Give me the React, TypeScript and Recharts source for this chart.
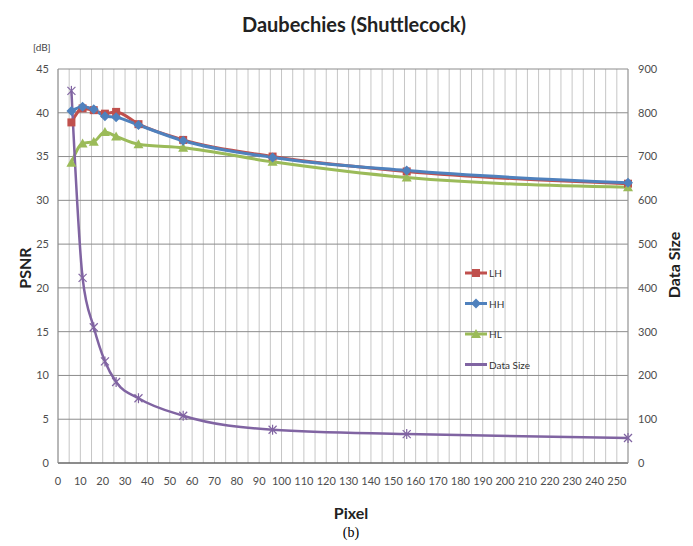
import { ComposedChart, Line, XAxis, YAxis, CartesianGrid } from 'recharts'

// window size (pixels) used for each run
const pixels = [6, 11, 16, 21, 26, 36, 56, 96, 156, 255]

// PSNR in dB per sub-band
const lhPsnr = [38.9, 40.5, 40.3, 39.9, 40.1, 38.7, 36.9, 35.0, 33.3, 31.9]
const hhPsnr = [40.2, 40.7, 40.4, 39.6, 39.5, 38.6, 36.8, 34.9, 33.4, 32.0]
const hlPsnr = [34.3, 36.5, 36.7, 37.8, 37.3, 36.4, 36.0, 34.4, 32.6, 31.5]

// compressed data size
const dataSize = [850, 423, 310, 232, 185, 148, 108, 76, 66, 57]

const xTicks = Array.from({ length: 52 }, (_, i) => i * 5)
const psnrTicks = [0, 5, 10, 15, 20, 25, 30, 35, 40, 45]
const sizeTicks = [0, 100, 200, 300, 400, 500, 600, 700, 800, 900]

const RED = '#c0504d'
const BLUE = '#4f81bd'
const GREEN = '#9bbb59'
const PURPLE = '#8064a2'

const FONT = 'Lato, "DejaVu Sans Condensed", Arial, sans-serif'

const data = pixels.map((p, i) => ({
  pixel: p,
  LH: lhPsnr[i],
  HH: hhPsnr[i],
  HL: hlPsnr[i],
  size: dataSize[i],
}))

type DotProps = { cx?: number; cy?: number; index?: number }

const squareDot = (color: string) => (p: DotProps) => (
  <rect key={`sq-${p.index}`} x={(p.cx ?? 0) - 4} y={(p.cy ?? 0) - 4} width={8} height={8} fill={color} />
)

const diamondDot = (color: string) => (p: DotProps) => {
  const x = p.cx ?? 0
  const y = p.cy ?? 0
  return <polygon key={`dm-${p.index}`} points={`${x},${y - 5} ${x + 5},${y} ${x},${y + 5} ${x - 5},${y}`} fill={color} />
}

const triangleDot = (color: string) => (p: DotProps) => {
  const x = p.cx ?? 0
  const y = p.cy ?? 0
  return <polygon key={`tr-${p.index}`} points={`${x},${y - 5} ${x + 5},${y + 4} ${x - 5},${y + 4}`} fill={color} />
}

const starDot = (color: string) => (p: DotProps) => {
  const x = p.cx ?? 0
  const y = p.cy ?? 0
  return (
    <g key={`st-${p.index}`} stroke={color} strokeWidth={1.2}>
      <line x1={x - 4} y1={y - 4} x2={x + 4} y2={y + 4} />
      <line x1={x - 4} y1={y + 4} x2={x + 4} y2={y - 4} />
      <line x1={x} y1={y - 5} x2={x} y2={y + 5} />
    </g>
  )
}

const legendItems = [
  { name: 'LH', color: RED, marker: 'square' },
  { name: 'HH', color: BLUE, marker: 'diamond' },
  { name: 'HL', color: GREEN, marker: 'triangle' },
  { name: 'Data Size', color: PURPLE, marker: 'none' },
]

// series key drawn inside the plot area
function LegendBox() {
  return (
    <svg width={100} height={110} style={{ position: 'absolute', left: 465, top: 263 }}>
      {legendItems.map((it, i) => {
        const y = 10 + i * 30.5
        return (
          <g key={it.name}>
            <line x1={0} y1={y} x2={22} y2={y} stroke={it.color} strokeWidth={3} />
            {it.marker === 'square' && <rect x={7} y={y - 4} width={8} height={8} fill={it.color} />}
            {it.marker === 'diamond' && (
              <polygon points={`11,${y - 5} 16,${y} 11,${y + 5} 6,${y}`} fill={it.color} />
            )}
            {it.marker === 'triangle' && (
              <polygon points={`11,${y - 5} 16,${y + 4} 6,${y + 4}`} fill={it.color} />
            )}
            <text x={24} y={y + 4} fontSize={10} fontFamily={FONT} fill="#333">
              {it.name}
            </text>
          </g>
        )
      })}
    </svg>
  )
}

const tickStyle = { fontSize: 11, fill: '#4d4d4d', fontFamily: FONT }

const axisTitle = {
  position: 'absolute' as const,
  fontFamily: FONT,
  fontWeight: 'bold' as const,
  fontSize: 16,
  color: '#222',
  whiteSpace: 'nowrap' as const,
}

export default function App() {
  return (
    <div style={{ position: 'absolute', left: 0, top: 0, width: 693, height: 546, background: '#fff' }}>
      <div
        style={{
          position: 'absolute',
          left: 0,
          width: 708,
          top: 12,
          textAlign: 'center',
          fontFamily: FONT,
          fontWeight: 'bold',
          fontSize: 20,
          color: '#222',
        }}
      >
        Daubechies (Shuttlecock)
      </div>
      <div style={{ position: 'absolute', left: 33, top: 41, fontSize: 10, fontFamily: FONT, color: '#444' }}>[dB]</div>
      <ComposedChart width={693} height={546} data={data} margin={{ top: 69, right: 15, bottom: 53, left: 18 }}>
        <CartesianGrid horizontal={false} stroke="#c6c6c6" yAxisId="psnr" />
        <CartesianGrid vertical={false} stroke="#8c8c8c" yAxisId="psnr" />
        <XAxis
          dataKey="pixel"
          type="number"
          domain={[0, 255]}
          ticks={xTicks}
          interval={0}
          tickFormatter={(v: number) => (v % 10 === 0 ? String(v) : '')}
          tick={tickStyle}
          tickLine={false}
          tickSize={0}
          tickMargin={14}
          axisLine={{ stroke: '#555' }}
          height={30}
        />
        <YAxis
          yAxisId="psnr"
          domain={[0, 45]}
          ticks={psnrTicks}
          interval={0}
          tick={tickStyle}
          tickLine={false}
          tickSize={0}
          tickMargin={9}
          axisLine={{ stroke: '#8c8c8c' }}
          width={40}
        />
        <YAxis
          yAxisId="size"
          orientation="right"
          domain={[0, 900]}
          ticks={sizeTicks}
          interval={0}
          tick={tickStyle}
          tickLine={false}
          tickSize={0}
          tickMargin={10}
          axisLine={{ stroke: '#999' }}
          width={50}
        />
        <Line yAxisId="psnr" dataKey="LH" name="LH" type="monotone" stroke={RED} strokeWidth={3} dot={squareDot(RED)} isAnimationActive={false} />
        <Line yAxisId="psnr" dataKey="HL" name="HL" type="monotone" stroke={GREEN} strokeWidth={3} dot={triangleDot(GREEN)} isAnimationActive={false} />
        <Line yAxisId="psnr" dataKey="HH" name="HH" type="monotone" stroke={BLUE} strokeWidth={3} dot={diamondDot(BLUE)} isAnimationActive={false} />
        <Line yAxisId="size" dataKey="size" name="Data Size" type="monotone" stroke={PURPLE} strokeWidth={2.5} dot={starDot(PURPLE)} isAnimationActive={false} />
      </ComposedChart>
      <LegendBox />
      <div style={{ ...axisTitle, left: 24, top: 268, transform: 'translate(-50%, -50%) rotate(-90deg)' }}>PSNR</div>
      <div style={{ ...axisTitle, left: 673, top: 265, transform: 'translate(-50%, -50%) rotate(-90deg)' }}>Data Size</div>
      <div style={{ ...axisTitle, left: 351, top: 512, transform: 'translate(-50%, -50%)' }}>Pixel</div>
      <div
        style={{
          position: 'absolute',
          left: 351,
          top: 533,
          transform: 'translate(-50%, -50%)',
          fontFamily: '"Liberation Serif", "Times New Roman", serif',
          fontSize: 14,
          color: '#000',
        }}
      >
        (b)
      </div>
    </div>
  )
}
